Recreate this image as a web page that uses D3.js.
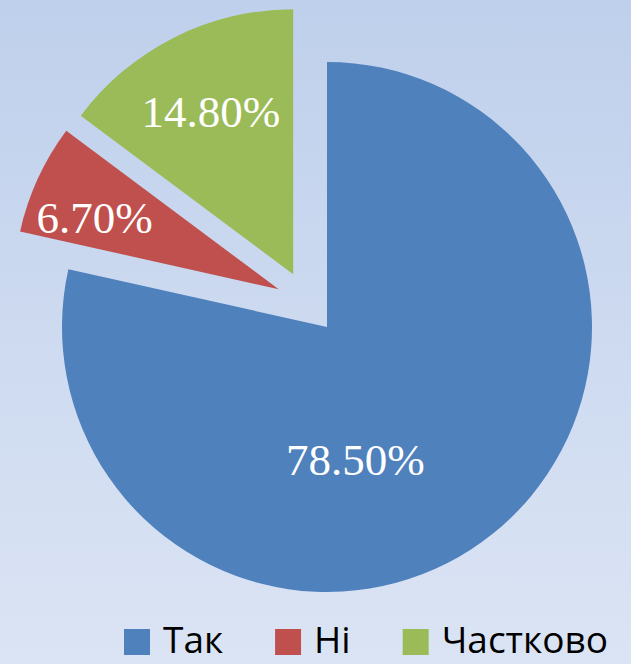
<!DOCTYPE html>
<html>
<head>
<meta charset="utf-8">
<script src="https://cdn.jsdelivr.net/npm/d3@7"></script>
<style>
  html, body { margin: 0; padding: 0; overflow: hidden; }
  svg { display: block; }
</style>
</head>
<body>
<script>
// data
const categories = ['Так', 'Ні', 'Частково'];
const shares = [78.5, 6.7, 14.8];
const valueLabels = ['78.50%', '6.70%', '14.80%'];
const colors = ['#4f81bd', '#c0504d', '#9bbb59'];

// layout
const width = 631, height = 664;
const cx = 307.3, cy = 302.4, radius = 265, explode = 31.5;
// label placement around each slice apex: angle (deg, clockwise from top) and fraction of radius
const labelPolar = [{ a: 168, f: 0.513 }, { a: 291.2, f: 0.745 }, { a: 333.1, f: 0.687 }];
const legend = { x: 124, y: 629, box: 26, textGap: 13, itemGap: 52, baseline: 653 };

const svg = d3.select('body').append('svg')
  .attr('width', width).attr('height', height);

const grad = svg.append('defs').append('linearGradient')
  .attr('id', 'bg').attr('x1', 0).attr('y1', 0).attr('x2', 0).attr('y2', 1);
grad.append('stop').attr('offset', '0%').attr('stop-color', '#bfd0ec');
grad.append('stop').attr('offset', '100%').attr('stop-color', '#dbe4f4');

svg.append('rect').attr('width', width).attr('height', height).attr('fill', 'url(#bg)');

const pie = d3.pie().sort(null).value(d => d)(shares);
const arc = d3.arc().innerRadius(0).outerRadius(radius);

const slices = svg.append('g').attr('transform', `translate(${cx},${cy})`)
  .selectAll('g.slice').data(pie).join('g')
  .attr('class', 'slice')
  .attr('transform', d => {
    const mid = (d.startAngle + d.endAngle) / 2;
    return `translate(${explode * Math.sin(mid)},${-explode * Math.cos(mid)})`;
  });

slices.append('path')
  .attr('d', arc)
  .attr('fill', (d, i) => colors[i]);

slices.append('text')
  .attr('x', (d, i) => labelPolar[i].f * radius * Math.sin(labelPolar[i].a * Math.PI / 180))
  .attr('y', (d, i) => -labelPolar[i].f * radius * Math.cos(labelPolar[i].a * Math.PI / 180))
  .attr('dy', '0.33em')
  .attr('text-anchor', 'middle')
  .style('font-family', '"Liberation Serif", "Times New Roman", serif')
  .style('font-size', '45px')
  .attr('fill', '#fff')
  .text((d, i) => valueLabels[i]);

// legend
const lg = svg.append('g');
let lx = legend.x;
categories.forEach((c, i) => {
  lg.append('rect')
    .attr('x', lx).attr('y', legend.y)
    .attr('width', legend.box).attr('height', legend.box)
    .attr('fill', colors[i]);
  const t = lg.append('text')
    .attr('x', lx + legend.box + legend.textGap)
    .attr('y', legend.baseline)
    .style('font-family', '"Open Sans", Lato, sans-serif')
    .style('font-size', '37px')
    .attr('fill', '#000')
    .text(c);
  lx += legend.box + legend.textGap + t.node().getComputedTextLength() + legend.itemGap;
});
</script>
</body>
</html>
